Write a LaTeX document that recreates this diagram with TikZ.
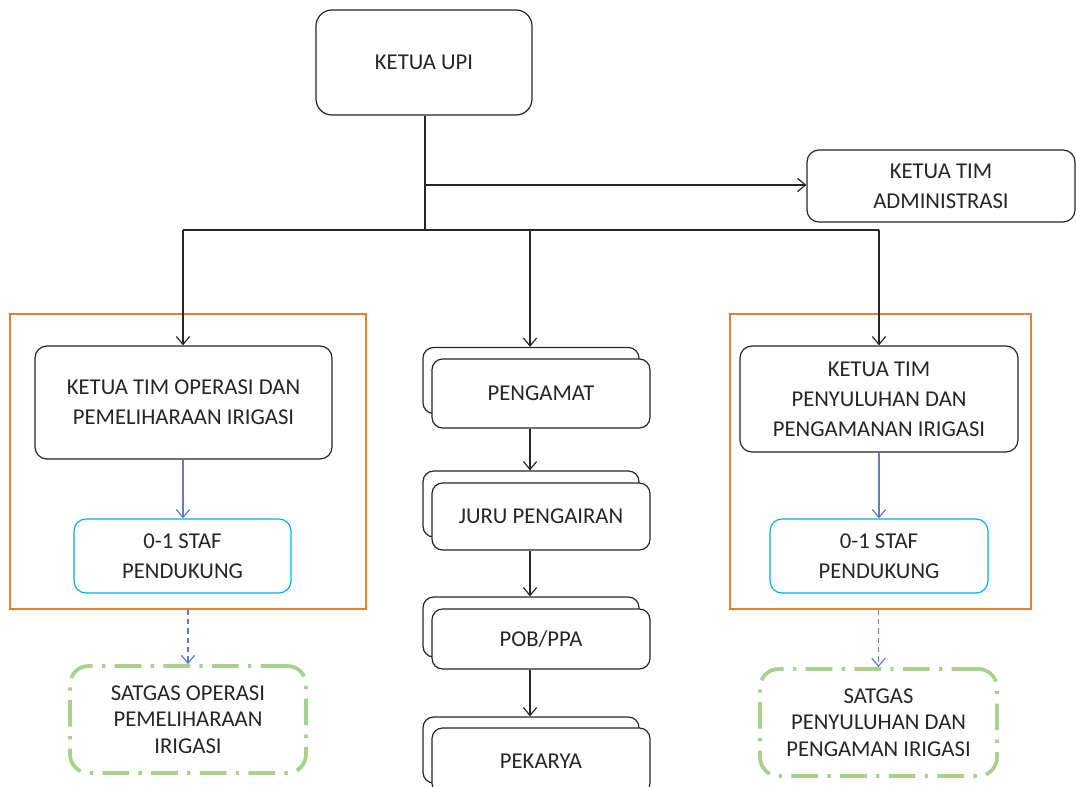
\documentclass[tikz,border=0pt]{standalone}
\usepackage{fontspec}
\setmainfont{Carlito}
\usetikzlibrary{arrows.meta}
\definecolor{txt}{HTML}{262626}
\definecolor{orng}{HTML}{ED7D31}
\definecolor{cyanb}{HTML}{00B0F0}
\definecolor{blu}{HTML}{5B7FD0}
\definecolor{grn}{HTML}{A9D18E}
\begin{document}
\begin{tikzpicture}[x=0.75pt,y=-0.75pt,
  every node/.style={font=\fontsize{17}{22.5}\selectfont, text=txt, align=center, inner sep=0pt},
  box/.style={draw=black!85, line width=0.9pt, rounded corners=9pt, fill=white},
  frame/.style={draw=orng, line width=0.9pt},
  staf/.style={draw=cyanb, line width=0.9pt, rounded corners=9pt, fill=white},
  satg/.style={draw=grn, line width=2.8pt, rounded corners=14pt,
     dash pattern=on 20pt off 7pt on 2.5pt off 7pt},
  arr/.style={draw=black!85, line width=0.9pt, -{Straight Barb[length=6pt,width=10pt]}},
  ln/.style={draw=black!85, line width=0.9pt},
  barr/.style={draw=blu, line width=0.9pt, -{Straight Barb[length=6pt,width=10pt]}},
  darr/.style={draw=blu, line width=0.9pt, dash pattern=on 4pt off 3pt, -{Straight Barb[length=6pt,width=10pt]}}
]
\useasboundingbox (0,0) rectangle (1076,787);
% frames
\node[frame, minimum width=356*0.75pt, minimum height=295*0.75pt] (frL) at (188,461.5) {};
\node[frame, minimum width=301*0.75pt, minimum height=295*0.75pt] (frR) at (880.5,461.5) {};
% top
\node[box, rounded corners=12pt, minimum width=216*0.75pt, minimum height=105*0.75pt] (upi) at (424,62.5) {KETUA UPI};
\node[box, minimum width=268*0.75pt, minimum height=72*0.75pt] (adm) at (941,186) {KETUA TIM\\ADMINISTRASI};
% left branch
\node[box, minimum width=297*0.75pt, minimum height=113*0.75pt] (opL) at (183.5,402.5) {KETUA TIM OPERASI DAN\\PEMELIHARAAN IRIGASI};
\node[staf, minimum width=217*0.75pt, minimum height=74*0.75pt] (stL) at (182.5,556) {0-1 STAF\\PENDUKUNG};
\node[satg, minimum width=236*0.75pt, minimum height=107*0.75pt, font=\fontsize{17}{20}\selectfont] (saL) at (188,719.5) {SATGAS OPERASI\\PEMELIHARAAN\\IRIGASI};
% right branch
\node[box, minimum width=278*0.75pt, minimum height=106*0.75pt] (opR) at (879,399) {KETUA TIM\\PENYULUHAN DAN\\PENGAMANAN IRIGASI};
\node[staf, minimum width=218*0.75pt, minimum height=74*0.75pt] (stR) at (879,556) {0-1 STAF\\PENDUKUNG};
\node[satg, minimum width=237*0.75pt, minimum height=107*0.75pt, font=\fontsize{17}{20}\selectfont] (saR) at (878.5,722.5) {SATGAS\\PENYULUHAN DAN\\PENGAMAN IRIGASI};
% middle stacks
\node[box, rounded corners=8pt, minimum width=216*0.75pt, minimum height=66*0.75pt] (pgB) at (531,380.5) {};
\node[box, rounded corners=8pt, minimum width=218*0.75pt, minimum height=69*0.75pt] (pgF) at (541,393.5) {PENGAMAT};
\node[box, rounded corners=8pt, minimum width=216*0.75pt, minimum height=66*0.75pt] (jrB) at (531,504) {};
\node[box, rounded corners=8pt, minimum width=218*0.75pt, minimum height=67*0.75pt] (jrF) at (541,516.5) {JURU PENGAIRAN};
\node[box, rounded corners=8pt, minimum width=216*0.75pt, minimum height=60*0.75pt] (pbB) at (531,627) {};
\node[box, rounded corners=8pt, minimum width=218*0.75pt, minimum height=60*0.75pt] (pbF) at (541,639) {POB/PPA};
\node[box, rounded corners=8pt, minimum width=216*0.75pt, minimum height=66*0.75pt] (pkB) at (531,750) {};
\node[box, rounded corners=8pt, minimum width=218*0.75pt, minimum height=66*0.75pt] (pkF) at (541,761) {PEKARYA};
% junction coordinates
\coordinate (jA) at (425,185);
\coordinate (jB) at (425,230);
\coordinate (hL) at (183,230);
\coordinate (hM) at (530,230);
\coordinate (hR) at (879,230);
% connectors
\draw[ln] (upi.south -| jB) -- (jB);
\draw[ln] (hL) -- (hR);
\draw[arr] (jA) -- (adm.west |- jA);
\draw[arr] (hL) -- (hL |- opL.north);
\draw[arr] (hM) -- (hM |- pgB.north);
\draw[arr] (hR) -- (hR |- opR.north);
\draw[arr] (hM |- pgF.south) -- (hM |- jrB.north);
\draw[arr] (hM |- jrF.south) -- (hM |- pbB.north);
\draw[arr] (hM |- pbF.south) -- (hM |- pkB.north);
\draw[barr] (hL |- opL.south) -- (hL |- stL.north);
\draw[barr] (hR |- opR.south) -- (hR |- stR.north);
\draw[darr] (frL.south) -- (frL.south |- saL.north);
\draw[darr] (frR.south -| saR.north) -- (saR.north);
\end{tikzpicture}
\end{document}
